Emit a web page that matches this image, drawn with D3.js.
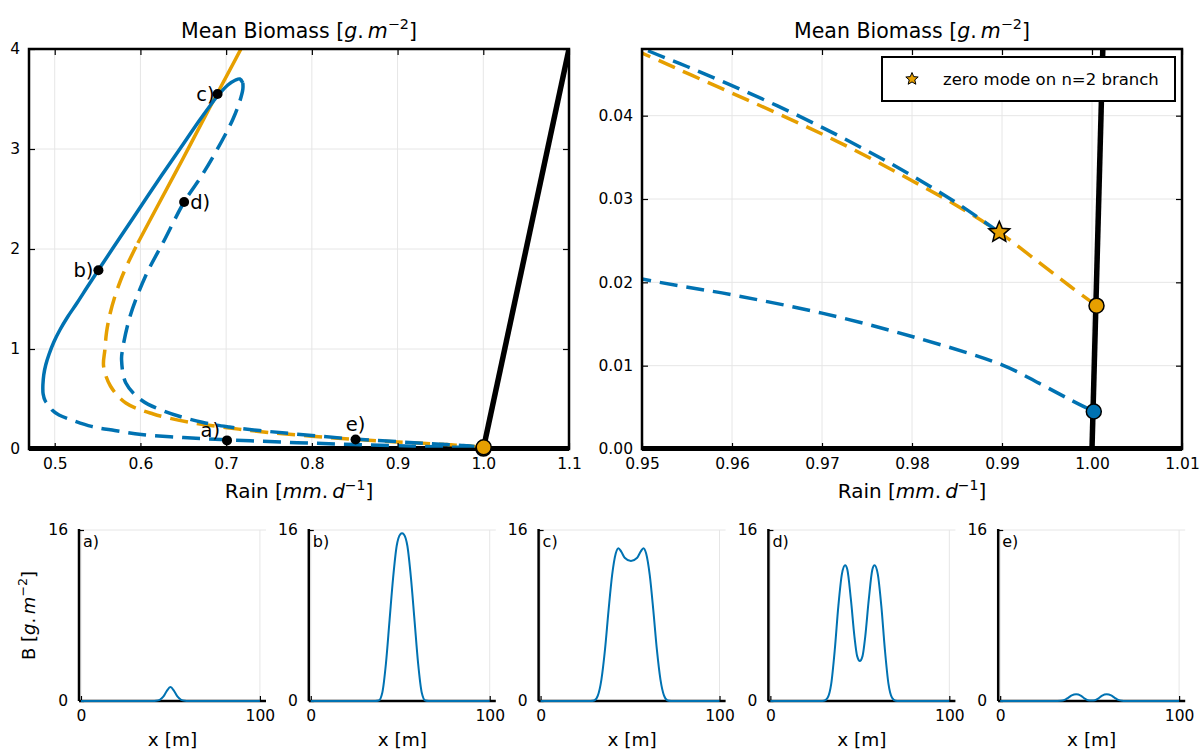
<!DOCTYPE html>
<html>
<head>
<meta charset="utf-8">
<script src="https://cdn.jsdelivr.net/npm/d3@7"></script>
<style>
  body { margin: 0; background: #fff; }
  text { font-family: "DejaVu Sans", sans-serif; }
</style>
</head>
<body>
<div id="chart"></div>
<script>
// --- data: [rain, mean biomass] ---
var bareSoil = [[0.40, 0], [1.20, 0]];
var homogeneous = [[1.0, 0], [1.1, 4]];

// n=1 branch (blue)
var blueStable = [[0.4862,0.64],[0.4872,0.74],[0.4895,0.84],[0.4935,0.95],[0.499,1.07],[0.506,1.19],
  [0.515,1.32],[0.526,1.46],[0.538,1.62],[0.551,1.79],[0.575,2.10],[0.600,2.42],[0.625,2.74],
  [0.650,3.05],[0.670,3.30],[0.690,3.53],[0.702,3.64],[0.711,3.69],[0.716,3.70],[0.7195,3.66]];
var blueUpper = [[0.7195,3.66],[0.7195,3.60],[0.716,3.48],[0.708,3.30],[0.695,3.08],[0.672,2.74],
  [0.651,2.47],[0.628,2.09],[0.606,1.73],[0.588,1.33],[0.579,0.99],[0.578,0.89],[0.583,0.66],
  [0.601,0.49],[0.628,0.377],[0.672,0.267],[0.704,0.22],[0.75,0.175],[0.80,0.135],[0.85,0.099],
  [0.90,0.073],[0.93,0.058],[0.95,0.0481],[0.955,0.0459],[0.96,0.0436],[0.965,0.0412],[0.97,0.0386],
  [0.975,0.0358],[0.98,0.0328],[0.985,0.0295],[0.9897,0.0260]];
var blueLower = [[0.4862,0.64],[0.4865,0.55],[0.489,0.48],[0.494,0.43],[0.497,0.39],[0.505,0.34],
  [0.52,0.29],[0.543,0.226],[0.57,0.185],[0.601,0.145],[0.65,0.115],[0.701,0.092],[0.75,0.074],
  [0.80,0.058],[0.85,0.045],[0.90,0.032],[0.95,0.0204],[0.96,0.0185],[0.97,0.0163],[0.98,0.0135],
  [0.99,0.0101],[0.9941,0.0079],[0.9976,0.0059],[1.0002,0.0045]];

// n=2 branch (orange)
var orangeDashed = [[1.0005,0.0172],[0.9976,0.0195],[0.9941,0.0224],[0.9897,0.0260],[0.985,0.0292],
  [0.98,0.0322],[0.975,0.0351],[0.97,0.0378],[0.965,0.0403],[0.96,0.0427],[0.955,0.0451],[0.95,0.0475],
  [0.90,0.070],[0.85,0.096],[0.80,0.128],[0.75,0.165],[0.704,0.21],[0.659,0.265],[0.615,0.35],
  [0.583,0.46],[0.565,0.63],[0.557,0.83],[0.5585,0.99],[0.5605,1.17],[0.5645,1.35],[0.570,1.52],
  [0.577,1.69],[0.585,1.85],[0.597,2.06]];
var orangeSolid = [[0.597,2.06],[0.62,2.43],[0.65,2.91],[0.68,3.40],[0.7166,3.99],[0.72,4.05]];

var bifPoints = [[1.0002,0.0045],[1.0005,0.0172]];   // blue, orange
var zeroMode = [0.9897, 0.0260];
var profilePoints = [[0.701,0.086],[0.551,1.787],[0.690,3.55],[0.651,2.47],[0.851,0.095]];
var pointLabels = ["a)","b)","c)","d)","e)"];

var xTicksL = [0.5,0.6,0.7,0.8,0.9,1.0,1.1];
var yTicksL = [0,1,2,3,4];
var xTicksR = [0.95,0.96,0.97,0.98,0.99,1.00,1.01];
var yTicksR = [0,0.01,0.02,0.03,0.04];

// profiles B(x) for a) ... e)
var profA_x = [0,40,42,44,46,48,50,52,54,56,58,60,100];
var profA_B = [0,0,0.02,0.1,0.4,0.95,1.3,0.95,0.4,0.1,0.02,0,0];
var profB_x = [0,36,38,40,42,44,46,48,50,51,52,54,56,58,60,62,64,66,100];
var profB_B = [0,0,0.05,0.8,3.5,7.5,11.5,14.5,15.6,15.7,15.6,14.5,11.5,7.5,3.5,0.8,0.05,0,0];
var profC_x = [0,28,30,32,34,36,38,40,42,43.5,45,47,50.5,54,56,57.5,59,61,63,65,67,69,71,73,100];
var profC_B = [0,0,0.05,0.5,2.0,4.8,8.5,11.8,13.8,14.3,14.0,13.4,13.1,13.4,14.0,14.3,13.8,11.8,8.5,4.8,2.0,0.5,0.05,0,0];
var profD_x = [0,28,30,32,34,36,38,40,41.8,43,45,47,48.5,50,51.5,53,55,57,58.2,60,62,64,66,68,70,72,100];
var profD_B = [0,0,0.02,0.3,1.6,4.8,8.9,11.9,12.7,12.3,9.5,6.0,4.2,3.75,4.2,6.0,9.5,12.3,12.7,11.9,8.9,4.8,1.6,0.3,0.02,0,0];
var profE_x = [0,30,34,36,38,40,42.5,45,47,49,51,53,55,57,59.5,62,64,66,68,70,100];
var profE_B = [0,0,0.02,0.1,0.3,0.52,0.62,0.5,0.25,0.08,0.05,0.08,0.25,0.5,0.62,0.52,0.3,0.1,0.02,0,0];
var profXTicks = [0, 100];
var profYTicks = [0, 16];

// --- styling ---
var BLUE = "#0072b2", ORANGE = "#e69f00", GRID = "#e6e6e6";
var DASH = "18,9";

var svg = d3.select("#chart").append("svg")
  .attr("width", 1203).attr("height", 752);

function mathText(txt, pre, a, b, p, size) {
  txt.append("tspan").text(pre + "[");
  txt.append("tspan").attr("font-style", "italic").text(a);
  txt.append("tspan").text(".\u2009");
  txt.append("tspan").attr("font-style", "italic").text(b);
  txt.append("tspan").attr("dy", -0.42 * size).attr("font-size", size * 0.7).text(p);
  txt.append("tspan").attr("dy", 0.42 * size).text("]");
}

function star(r) {
  var pts = [];
  for (var i = 0; i < 10; i++) {
    var ang = -Math.PI / 2 + i * Math.PI / 5;
    var rr = i % 2 ? r * 0.45 : r;
    pts.push([rr * Math.cos(ang), rr * Math.sin(ang)]);
  }
  return "M" + pts.join("L") + "Z";
}

function bifPanel(id, x, y, xt, yt, xfmt, yfmt, withPoints) {
  var x0 = x.range()[0], x1 = x.range()[1], y0 = y.range()[0], y1 = y.range()[1];
  var g = svg.append("g");

  g.append("clipPath").attr("id", id)
    .append("rect").attr("x", x0).attr("y", y1).attr("width", x1 - x0).attr("height", y0 - y1 + 2);

  // grid
  g.selectAll(".gx").data(xt).enter().append("line")
    .attr("x1", d => x(d)).attr("x2", d => x(d)).attr("y1", y0).attr("y2", y1)
    .attr("stroke", GRID).attr("stroke-width", 1);
  g.selectAll(".gy").data(yt).enter().append("line")
    .attr("y1", d => y(d)).attr("y2", d => y(d)).attr("x1", x0).attr("x2", x1)
    .attr("stroke", GRID).attr("stroke-width", 1);

  var lineX = d3.line().x(d => x(d[0])).y(d => y(d[1]));
  var curveLine = d3.line().x(d => x(d[0])).y(d => y(d[1])).curve(d3.curveCatmullRom.alpha(0.5));
  var plot = g.append("g").attr("clip-path", "url(#" + id + ")");

  plot.append("path").datum(bareSoil).attr("d", lineX)
    .attr("fill", "none").attr("stroke", "#000").attr("stroke-width", 6);
  plot.append("path").datum(homogeneous).attr("d", lineX)
    .attr("fill", "none").attr("stroke", "#000").attr("stroke-width", 5.5);

  [[orangeSolid, ORANGE, null], [orangeDashed, ORANGE, DASH],
   [blueStable, BLUE, null], [blueLower, BLUE, DASH], [blueUpper, BLUE, DASH]].forEach(function (s) {
    plot.append("path").datum(s[0]).attr("d", curveLine)
      .attr("fill", "none").attr("stroke", s[1]).attr("stroke-width", 3.5)
      .attr("stroke-dasharray", s[2]);
  });

  // axes with inward ticks on all four sides
  var fs = 15.5;
  function styleAxis(a) {
    a.attr("font-size", fs).attr("font-family", "DejaVu Sans");
    a.select(".domain").remove();
    a.selectAll("line").attr("stroke", "#000").attr("stroke-width", 1.2);
  }
  g.append("g").attr("transform", "translate(0," + y0 + ")")
    .call(d3.axisBottom(x).tickValues(xt).tickFormat(xfmt).tickSize(-6).tickPadding(9)).call(styleAxis);
  g.append("g").attr("transform", "translate(0," + y1 + ")")
    .call(d3.axisTop(x).tickValues(xt).tickFormat("").tickSize(-6)).call(styleAxis);
  g.append("g").attr("transform", "translate(" + x0 + ",0)")
    .call(d3.axisLeft(y).tickValues(yt).tickFormat(yfmt).tickSize(-6).tickPadding(9)).call(styleAxis);
  g.append("g").attr("transform", "translate(" + x1 + ",0)")
    .call(d3.axisRight(y).tickValues(yt).tickFormat("").tickSize(-6)).call(styleAxis);

  g.append("rect").attr("x", x0).attr("y", y1).attr("width", x1 - x0).attr("height", y0 - y1)
    .attr("fill", "none").attr("stroke", "#000").attr("stroke-width", 2.5);

  // bifurcation points
  g.selectAll(".bp").data(bifPoints).enter().append("circle")
    .attr("cx", d => x(d[0])).attr("cy", d => y(d[1])).attr("r", 7.5)
    .attr("fill", (d, i) => i ? ORANGE : BLUE).attr("stroke", "#000").attr("stroke-width", 1.5);

  if (withPoints) {
    g.selectAll(".pp").data(profilePoints).enter().append("circle")
      .attr("cx", d => x(d[0])).attr("cy", d => y(d[1])).attr("r", 5).attr("fill", "#000");
    var off = [[-7, -3, "end"], [-5, 7, "end"], [-3, 7, "end"], [6, 7, "start"], [0, -9, "middle"]];
    g.selectAll(".pl").data(profilePoints).enter().append("text")
      .attr("x", (d, i) => x(d[0]) + off[i][0]).attr("y", (d, i) => y(d[1]) + off[i][1])
      .attr("text-anchor", (d, i) => off[i][2]).attr("font-size", 19.5)
      .text((d, i) => pointLabels[i]);
  } else {
    g.append("path").attr("d", star(11))
      .attr("transform", "translate(" + x(zeroMode[0]) + "," + y(zeroMode[1]) + ")")
      .attr("fill", ORANGE).attr("stroke", "#000").attr("stroke-width", 1.5);
  }

  mathText(g.append("text").attr("x", (x0 + x1) / 2).attr("y", 38).attr("text-anchor", "middle")
    .attr("font-size", 20.5), "Mean Biomass ", "g", "m", "\u22122", 20.5);
  mathText(g.append("text").attr("x", (x0 + x1) / 2).attr("y", 498).attr("text-anchor", "middle")
    .attr("font-size", 20), "Rain ", "mm", "d", "\u22121", 20);
  return g;
}

var xL = d3.scaleLinear().domain([0.47, 1.1]).range([29, 569]);
var yL = d3.scaleLinear().domain([0, 4]).range([449, 49]);
var xR = d3.scaleLinear().domain([0.95, 1.01]).range([642, 1182]);
var yR = d3.scaleLinear().domain([0, 0.048]).range([449, 49]);

bifPanel("clipL", xL, yL, xTicksL, yTicksL, d3.format(".1f"), d3.format("d"), true);
var gR = bifPanel("clipR", xR, yR, xTicksR, yTicksR, d3.format(".2f"), d3.format(".2f"), false);

// legend
var leg = gR.append("g");
leg.append("rect").attr("x", 882).attr("y", 57).attr("width", 293).attr("height", 44)
  .attr("fill", "#fff").attr("stroke", "#000").attr("stroke-width", 2);
leg.append("path").attr("d", star(6.5)).attr("transform", "translate(912,79)")
  .attr("fill", ORANGE).attr("stroke", "#000").attr("stroke-width", 1);
leg.append("text").attr("x", 943).attr("y", 85).attr("font-size", 16.5).text("zero mode on n=2 branch");

// --- profile panels ---
var profiles = [[profA_x, profA_B], [profB_x, profB_B], [profC_x, profC_B], [profD_x, profD_B], [profE_x, profE_B]];
profiles.forEach(function (p, k) {
  var left = 79 + k * 229.8;
  var px = d3.scaleLinear().domain([-1.1, 103.4]).range([left, left + 187]);
  var py = d3.scaleLinear().domain([0, 16]).range([701, 530]);
  var g = svg.append("g");
  var pts = p[0].map((xv, i) => [xv, p[1][i]]);

  profXTicks.forEach(function (t) {
    g.append("line").attr("x1", px(t)).attr("x2", px(t)).attr("y1", 701).attr("y2", 530)
      .attr("stroke", GRID).attr("stroke-width", 1);
  });
  profYTicks.forEach(function (t) {
    g.append("line").attr("y1", py(t)).attr("y2", py(t)).attr("x1", left).attr("x2", left + 187)
      .attr("stroke", GRID).attr("stroke-width", 1);
  });

  var ax = g.append("g").attr("transform", "translate(0,701)")
    .call(d3.axisBottom(px).tickValues(profXTicks).tickSize(-5).tickPadding(9));
  var ay = g.append("g").attr("transform", "translate(" + left + ",0)")
    .call(d3.axisLeft(py).tickValues(profYTicks).tickSize(-5).tickPadding(11));
  [ax, ay].forEach(function (a) {
    a.attr("font-size", 15.5).attr("font-family", "DejaVu Sans");
    a.select(".domain").remove();
    a.selectAll("line").attr("stroke", "#000").attr("stroke-width", 1.2);
  });
  g.append("line").attr("x1", left).attr("x2", left + 187).attr("y1", 701).attr("y2", 701)
    .attr("stroke", "#000").attr("stroke-width", 2.5);
  g.append("line").attr("x1", left).attr("x2", left).attr("y1", 701).attr("y2", 529)
    .attr("stroke", "#000").attr("stroke-width", 2.5);

  g.append("path").datum(pts)
    .attr("d", d3.line().x(d => px(d[0])).y(d => py(d[1])).curve(d3.curveMonotoneX))
    .attr("fill", "none").attr("stroke", BLUE).attr("stroke-width", 2);

  g.append("text").attr("x", left + 4).attr("y", 547).attr("font-size", 16).text(pointLabels[k]);
  g.append("text").attr("x", left + 93.5).attr("y", 746).attr("text-anchor", "middle")
    .attr("font-size", 18.5).text("x [m]");
});

mathText(svg.append("text").attr("transform", "translate(35,615.5) rotate(-90)")
  .attr("text-anchor", "middle").attr("font-size", 18), "B ", "g", "m", "\u22122", 18);
</script>
</body>
</html>
